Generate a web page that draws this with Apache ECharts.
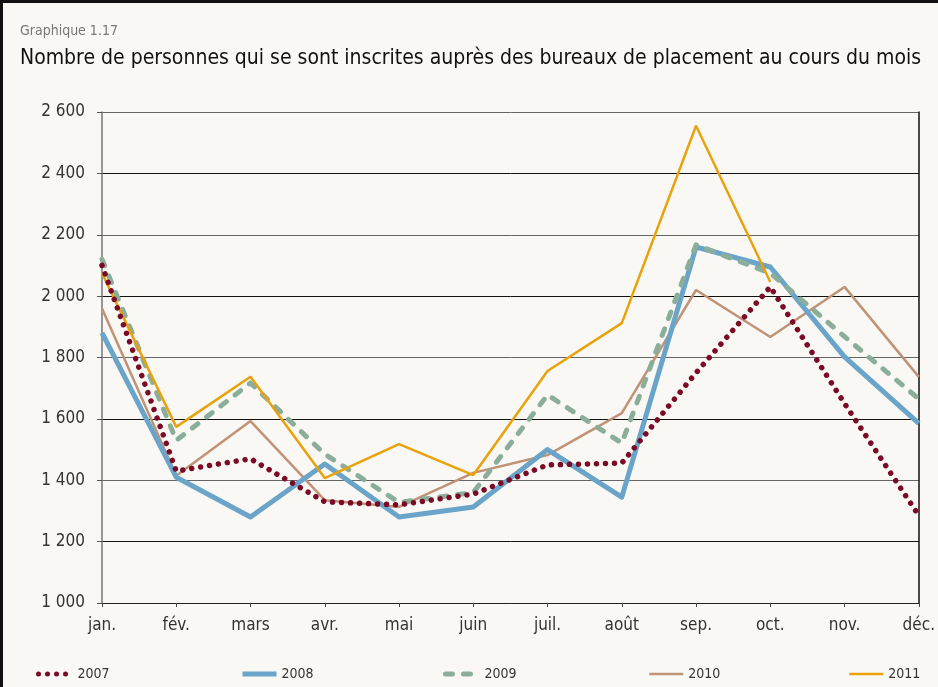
<!DOCTYPE html>
<html>
<head>
<meta charset="utf-8">
<script src="https://cdn.jsdelivr.net/npm/echarts@6/dist/echarts.min.js"></script>
<style>
  html, body { margin: 0; padding: 0; background: #f9f8f4; }
  #chart { width: 938px; height: 687px; }
</style>
</head>
<body>
<div id="chart"></div>
<script>
// months on the x axis
const months = ['jan.', 'fév.', 'mars', 'avr.', 'mai', 'juin', 'juil.', 'août', 'sep.', 'oct.', 'nov.', 'déc.']
// inscriptions per month
const y2007 = [2100, 1430, 1470, 1330, 1320, 1355, 1450, 1456, 1750, 2030, 1650, 1285]
const y2008 = [1880, 1410, 1280, 1453, 1280, 1313, 1500, 1345, 2160, 2095, 1802, 1585]
const y2009 = [2120, 1530, 1717, 1485, 1328, 1360, 1678, 1521, 2167, 2075, 1868, 1665]
const y2010 = [1960, 1415, 1593, 1335, 1313, 1424, 1482, 1619, 2020, 1867, 2030, 1737]
const y2011 = [2075, 1574, 1737, 1407, 1518, 1417, 1756, 1912, 2555, 2046, null, null]
const yTicks = [1000, 2600, 200] // min, max, step

const font = "'DejaVu Sans Condensed', 'Liberation Sans Narrow', sans-serif"

const chart = echarts.init(document.getElementById('chart'))

function legendAt(name, left, width) {
  return {
    data: [name], left: left, top: 662,
    itemWidth: 34, itemHeight: 14, itemGap: 0,
    itemStyle: { opacity: 0 },
    lineStyle: { width: width },
    textStyle: { fontFamily: font, fontSize: 14, color: '#333' },
    selectedMode: false
  }
}

chart.setOption({
  animation: false,
  backgroundColor: '#f9f8f4',
  textStyle: { fontFamily: font },
  title: [
    { text: 'Graphique 1.17', left: 15, top: 19, textStyle: { fontFamily: font, fontSize: 14, fontWeight: 'normal', color: '#777' } },
    { text: 'Nombre de personnes qui se sont inscrites auprès des bureaux de placement au cours du mois', left: 15, top: 43, textStyle: { fontFamily: font, fontSize: 21, fontWeight: 'normal', color: '#111' } }
  ],
  legend: [
    legendAt('2007', 31, 5),
    legendAt('2008', 235, 5),
    legendAt('2009', 438, 5),
    legendAt('2010', 643, 2.5),
    legendAt('2011', 843, 2.5)
  ],
  grid: { left: 102, right: 19, top: 112, bottom: 84 },
  xAxis: {
    type: 'category',
    data: months,
    boundaryGap: false,
    axisLine: { lineStyle: { color: '#222', width: 1 } },
    axisTick: { alignWithLabel: true, length: 4, lineStyle: { color: '#444' } },
    axisLabel: { fontFamily: font, fontSize: 17, color: '#333', margin: 14 }
  },
  yAxis: [{
    type: 'value',
    min: yTicks[0], max: yTicks[1], interval: yTicks[2],
    axisLine: { show: true, lineStyle: { color: '#777', width: 1.5 } },
    axisTick: { show: true, length: 5, lineStyle: { color: '#555' } },
    axisLabel: {
      fontFamily: font, fontSize: 17, color: '#333', margin: 17,
      formatter: v => String(v).replace(/\B(?=(\d{3})+(?!\d))/g, ' ')
    },
    splitLine: { lineStyle: { color: ['#666', '#111'], width: 1 } }
  }, {
    type: 'value', position: 'right',
    min: yTicks[0], max: yTicks[1], interval: yTicks[2],
    axisLine: { show: true, lineStyle: { color: '#111', width: 1.5 } },
    axisTick: { show: false }, axisLabel: { show: false }, splitLine: { show: false }
  }],
  series: [
    { name: '2007', type: 'line', data: y2007, symbol: 'none', z: 6,
      lineStyle: { color: '#7a0a26', width: 5.5, type: [0.01, 9], cap: 'round', join: 'round' },
      itemStyle: { color: '#7a0a26' } },
    { name: '2008', type: 'line', data: y2008, symbol: 'none', z: 3,
      lineStyle: { color: '#6aa4c8', width: 5, join: 'round' },
      itemStyle: { color: '#6aa4c8' } },
    { name: '2009', type: 'line', data: y2009, symbol: 'none', z: 4,
      lineStyle: { color: '#8aae9a', width: 5, type: [7, 11], cap: 'round', join: 'round' },
      itemStyle: { color: '#8aae9a' } },
    { name: '2010', type: 'line', data: y2010, symbol: 'none', z: 2,
      lineStyle: { color: '#c09276', width: 2.5 },
      itemStyle: { color: '#c09276' } },
    { name: '2011', type: 'line', data: y2011, symbol: 'none', z: 5,
      lineStyle: { color: '#e9a20c', width: 2.5 },
      itemStyle: { color: '#e9a20c' } }
  ],
  graphic: [{
    type: 'polyline', silent: true,
    shape: { points: [[1.5, 687], [1.5, 1.5], [938, 1.5]] },
    style: { fill: 'none', stroke: '#111', lineWidth: 3 }
  }]
})
</script>
</body>
</html>
